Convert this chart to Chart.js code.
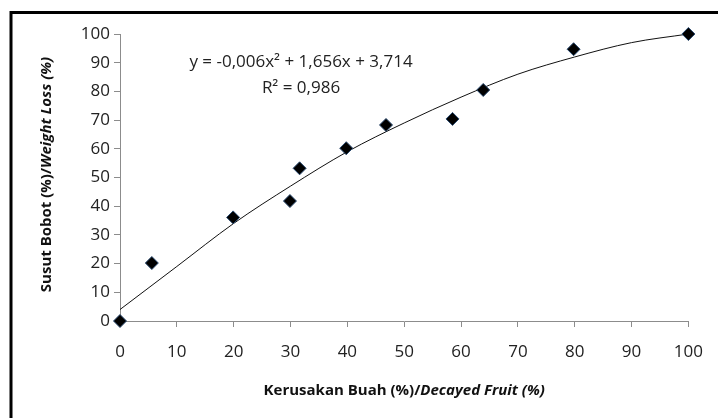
<!DOCTYPE html>
<html lang="id">
<head>
    <meta charset="UTF-8">
    <title>Susut Bobot vs Kerusakan Buah</title>
    <script src="https://cdn.jsdelivr.net/npm/chart.js"></script>
    <style>
        html, body {
            margin: 0;
            padding: 0;
            background: #fff;
        }
        #wrap {
            width: 718px;
            height: 418px;
        }
    </style>
</head>
<body>
    <div id="wrap"><canvas id="grafik"></canvas></div>

    <script>
        // data
        const kerusakan = [0, 5.6, 19.9, 29.9, 31.6, 39.8, 46.8, 58.5, 63.9, 79.8, 100];
        const susut = [0, 20.2, 36.1, 41.8, 53.2, 60.2, 68.3, 70.4, 80.5, 94.7, 100];

        // garis tren (titik dibaca dari kurva di gambar)
        const trenX = [0, 10, 20, 30, 40, 50, 60, 70, 80, 90, 100];
        const trenY = [4, 19, 34, 47, 59, 69, 78, 86, 92, 97, 100];

        const persamaan = 'y = -0,006x² + 1,656x + 3,714';
        const r2 = 'R² = 0,986';

        const judulX = ['Kerusakan Buah (%)/', 'Decayed Fruit (%)'];
        const judulY = ['Susut Bobot (%)/', 'Weight Loss (%)'];

        const titikData = kerusakan.map((x, i) => ({ x: x, y: susut[i] }));
        const titikTren = trenX.map((x, i) => ({ x: x, y: trenY[i] }));

        function tulisCampur(ctx, bagian, cx, cy) {
            const f1 = 'bold 15px "Open Sans"';
            const f2 = 'italic bold 15px "Open Sans"';
            ctx.font = f1;
            const w1 = ctx.measureText(bagian[0]).width;
            ctx.font = f2;
            const w2 = ctx.measureText(bagian[1]).width;
            let x = cx - (w1 + w2) / 2;
            ctx.textAlign = 'left';
            ctx.textBaseline = 'middle';
            ctx.font = f1;
            ctx.fillText(bagian[0], x, cy);
            ctx.font = f2;
            ctx.fillText(bagian[1], x + w1, cy);
        }

        const hiasan = {
            id: 'hiasan',
            beforeDraw(chart) {
                const ctx = chart.ctx;
                ctx.save();
                ctx.fillStyle = '#fff';
                ctx.fillRect(0, 0, chart.width, chart.height);
                ctx.strokeStyle = '#000';
                ctx.lineWidth = 3;
                ctx.beginPath();
                ctx.moveTo(11, chart.height + 5);
                ctx.lineTo(11, 12.5);
                ctx.lineTo(chart.width + 5, 12.5);
                ctx.stroke();
                ctx.restore();
            },
            afterDraw(chart) {
                const ctx = chart.ctx;
                const area = chart.chartArea;
                ctx.save();
                ctx.fillStyle = '#111';
                tulisCampur(ctx, judulX, (area.left + area.right) / 2, 391);

                ctx.save();
                ctx.translate(47, (area.top + area.bottom) / 2 - 3);
                ctx.rotate(-Math.PI / 2);
                tulisCampur(ctx, judulY, 0, 0);
                ctx.restore();

                ctx.fillStyle = '#222';
                ctx.font = '17px "Open Sans"';
                ctx.textAlign = 'center';
                ctx.textBaseline = 'middle';
                ctx.fillText(persamaan, area.left + 181, area.top + 28);
                ctx.fillText(r2, area.left + 181, area.top + 54);
                ctx.restore();
            }
        };

        const ctx = document.getElementById('grafik').getContext('2d');
        const grafik = new Chart(ctx, {
            type: 'scatter',
            data: {
                datasets: [{
                    label: 'Tren',
                    type: 'line',
                    data: titikTren,
                    borderColor: '#111',
                    borderWidth: 1,
                    pointRadius: 0,
                    fill: false,
                    cubicInterpolationMode: 'monotone',
                    order: 2
                }, {
                    label: 'Susut Bobot',
                    data: titikData,
                    pointStyle: 'rectRot',
                    pointRadius: 6.5,
                    backgroundColor: '#000',
                    borderColor: '#2a4a70',
                    borderWidth: 1,
                    clip: false,
                    order: 1
                }]
            },
            options: {
                responsive: true,
                maintainAspectRatio: false,
                animation: false,
                layout: {
                    padding: { left: 0, right: 29, top: 34, bottom: 0 }
                },
                plugins: {
                    legend: { display: false },
                    tooltip: { enabled: false }
                },
                scales: {
                    x: {
                        type: 'linear',
                        min: 0,
                        max: 100,
                        afterFit: (s) => { s.height = 97; },
                        grid: { drawOnChartArea: false, tickLength: 6, color: '#8c8c8c' },
                        border: { color: '#8c8c8c', width: 1 },
                        ticks: {
                            stepSize: 10,
                            padding: 15,
                            color: '#222',
                            font: { family: 'Open Sans', size: 17 },
                            maxRotation: 0
                        }
                    },
                    y: {
                        min: 0,
                        max: 100,
                        afterFit: (s) => { s.width = 120; },
                        grid: { drawOnChartArea: false, tickLength: 6, color: '#8c8c8c' },
                        border: { color: '#8c8c8c', width: 1 },
                        ticks: {
                            stepSize: 10,
                            padding: 4,
                            color: '#222',
                            font: { family: 'Open Sans', size: 17 }
                        }
                    }
                }
            },
            plugins: [hiasan]
        });
    </script>
</body>
</html>
